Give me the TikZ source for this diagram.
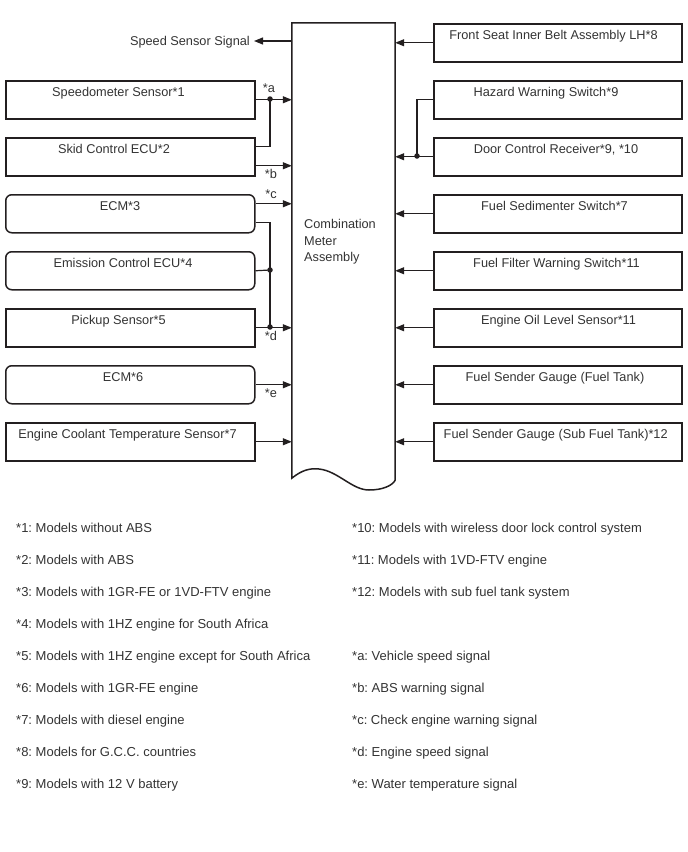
\documentclass[tikz,border=0pt]{standalone}
\usepackage{fontspec}
\setmainfont{Liberation Sans}
\usetikzlibrary{arrows.meta}
\definecolor{ln}{HTML}{231F20}
\definecolor{tx}{HTML}{333333}
\frenchspacing
\begin{document}
\begin{tikzpicture}[x=1pt,y=-1pt,
  font=\fontsize{12.75}{16.5}\selectfont,
  lbox/.style={draw=ln, line width=1.5pt, minimum width=249pt, minimum height=38pt, inner sep=0pt, anchor=north west},
  rbox/.style={lbox, minimum width=248pt},
  rnd/.style={rounded corners=6pt},
  txt/.style={text=tx, inner sep=0pt, anchor=base},
  conn/.style={draw=ln, line width=1.2pt},
  arr/.style={conn, -{Triangle[length=9pt,width=7pt]}},
  dot/.style={circle, fill=ln, inner sep=0pt, minimum size=5.5pt},
  note/.style={text=tx, inner sep=0pt, anchor=base west, font=\fontsize{13}{16}\selectfont},
]
\useasboundingbox (0,0) rectangle (688,852);

% central assembly
\node[minimum width=103pt, minimum height=457pt, inner sep=0pt] (cm) at (343.5,251.5) {};
\draw[ln, line width=1.5pt] ([yshift=2pt]cm.south west)
  .. controls (302,470) and (310,468) .. (319,469)
  .. controls (338,471) and (352,490) .. (369,490)
  .. controls (382,490) and (392,486) .. (cm.south east)
  -- (cm.north east) -- (cm.north west) -- cycle;
\node[text=tx, inner sep=0pt, anchor=north west, align=left] (cmt) at (304,219.5) {Combination\\Meter\\Assembly};

% left boxes
\node[lbox] (b1) at (5,80) {};
\node[lbox] (b2) at (5,137) {};
\node[lbox,rnd] (b3) at (5,194) {};
\node[lbox,rnd] (b4) at (5,251) {};
\node[lbox] (b5) at (5,308) {};
\node[lbox,rnd] (b6) at (5,365) {};
\node[lbox] (b7) at (5,422) {};
\node[txt] (t1) at (118.5,96.5) {Speedometer Sensor*1};
\node[txt] (t2) at (114,153.5) {Skid Control ECU*2};
\node[txt] (t3) at (120,210.5) {ECM*3};
\node[txt] (t4) at (123,267.5) {Emission Control ECU*4};
\node[txt] (t5) at (118.5,324.5) {Pickup Sensor*5};
\node[txt] (t6) at (123,381.5) {ECM*6};
\node[txt] (t7) at (127.5,438.5) {Engine Coolant Temperature Sensor*7};

% right boxes
\node[rbox] (r1) at (433,23) {};
\node[rbox] (r2) at (433,80) {};
\node[rbox] (r3) at (433,137) {};
\node[rbox] (r4) at (433,194) {};
\node[rbox] (r5) at (433,251) {};
\node[rbox] (r6) at (433,308) {};
\node[rbox] (r7) at (433,365) {};
\node[rbox] (r8) at (433,422) {};
\node[txt] (s1) at (553.5,39.5) {Front Seat Inner Belt Assembly LH*8};
\node[txt] (s2) at (546,96.5) {Hazard Warning Switch*9};
\node[txt] (s3) at (556,153.5) {Door Control Receiver*9, *10};
\node[txt] (s4) at (554.5,210.5) {Fuel Sedimenter Switch*7};
\node[txt] (s5) at (556.5,267.5) {Fuel Filter Warning Switch*11};
\node[txt] (s6) at (558.5,324.5) {Engine Oil Level Sensor*11};
\node[txt] (s7) at (555,381.5) {Fuel Sender Gauge (Fuel Tank)};
\node[txt] (s8) at (555.7,438.5) {Fuel Sender Gauge (Sub Fuel Tank)*12};

% speed sensor signal output
\node[text=tx, inner sep=0pt, anchor=base east] (sss) at (250,45.5) {Speed Sensor Signal};
\draw[arr] (cm.west |- 0,41) -- (254,41) coordinate (ssst);

% left connectors
\node[dot] (j1) at (270,99) {};
\node[dot] (j2) at (270,270) {};
\node[dot] (j3) at (270,327) {};
\draw[arr] (b1.east) -- (b1.east -| cm.west);
\draw[conn] ([yshift=10pt]b2.east) -| (j1.center);
\draw[arr] ([yshift=-9pt]b2.east) -- ([yshift=-9pt]b2.east -| cm.west);
\draw[arr] ([yshift=10pt]b3.east) -- ([yshift=10pt]b3.east -| cm.west);
\draw[conn] ([yshift=-9pt]b3.east) -| (j3.center);
\draw[conn] (b4.east) -- (j2.center);
\draw[arr] (b5.east) -- (b5.east -| cm.west);
\draw[arr] (b6.east) -- (b6.east -| cm.west);
\draw[arr] (b7.east) -- (b7.east -| cm.west);
\node[text=tx, inner sep=0pt] (la) at (269,88) {*a};
\node[text=tx, inner sep=0pt] (lb) at (271,174) {*b};
\node[text=tx, inner sep=0pt] (lc) at (271,194) {*c};
\node[text=tx, inner sep=0pt] (ld) at (271,336) {*d};
\node[text=tx, inner sep=0pt] (le) at (271,393) {*e};

% right connectors
\node[dot] (j4) at (417,156) {};
\draw[arr] (r1.west) -- (r1.west -| cm.east);
\draw[conn] (r2.west) -| (j4.center);
\draw[arr] (r3.west) -- (r3.west -| cm.east);
\draw[arr] (r4.west) -- (r4.west -| cm.east);
\draw[arr] (r5.west) -- (r5.west -| cm.east);
\draw[arr] (r6.west) -- (r6.west -| cm.east);
\draw[arr] (r7.west) -- (r7.west -| cm.east);
\draw[arr] (r8.west) -- (r8.west -| cm.east);

% legend
\node[note] (n1) at (16,532.5) {*1: Models without ABS};
\node[note] (n2) at (16,564.5) {*2: Models with ABS};
\node[note] (n3) at (16,596.5) {*3: Models with 1GR-FE or 1VD-FTV engine};
\node[note] (n4) at (16,628.5) {*4: Models with 1HZ engine for South Africa};
\node[note] (n5) at (16,660.5) {*5: Models with 1HZ engine except for South Africa};
\node[note] (n6) at (16,692.5) {*6: Models with 1GR-FE engine};
\node[note] (n7) at (16,724.5) {*7: Models with diesel engine};
\node[note] (n8) at (16,756.5) {*8: Models for G.C.C. countries};
\node[note] (n9) at (16,788.5) {*9: Models with 12 V battery};
\node[note] (n10) at (352,532.5) {*10: Models with wireless door lock control system};
\node[note] (n11) at (352,564.5) {*11: Models with 1VD-FTV engine};
\node[note] (n12) at (352,596.5) {*12: Models with sub fuel tank system};
\node[note] (na) at (352,660.5) {*a: Vehicle speed signal};
\node[note] (nb) at (352,692.5) {*b: ABS warning signal};
\node[note] (nc) at (352,724.5) {*c: Check engine warning signal};
\node[note] (nd) at (352,756.5) {*d: Engine speed signal};
\node[note] (ne) at (352,788.5) {*e: Water temperature signal};
\end{tikzpicture}
\end{document}
